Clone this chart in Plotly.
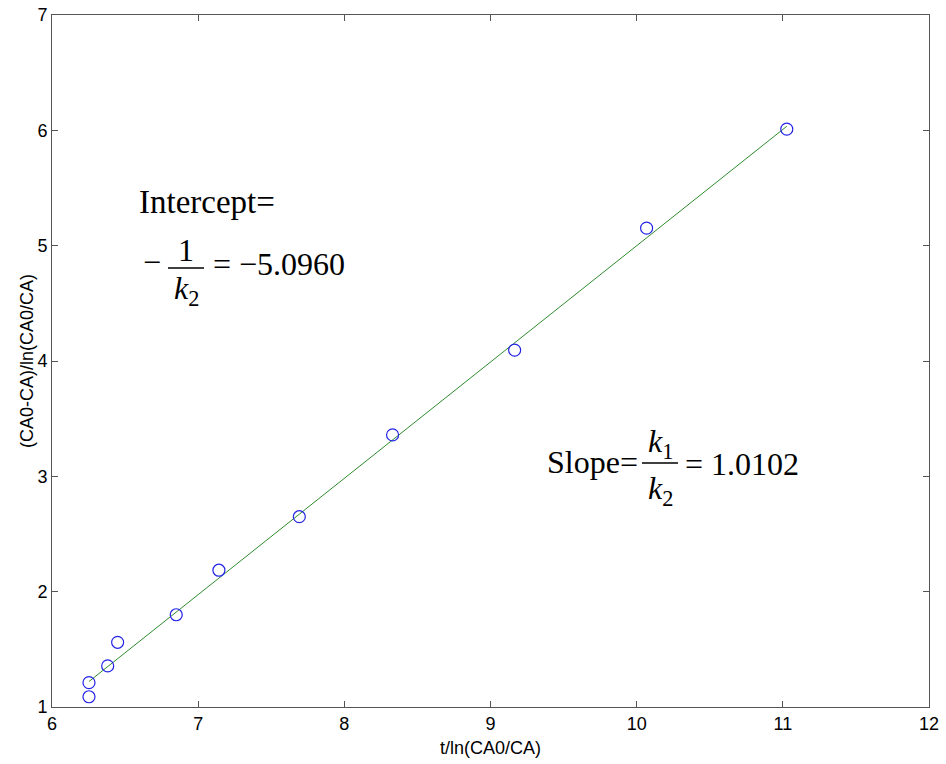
import plotly.graph_objects as go

# data
x_data = [6.253, 6.253, 6.381, 6.449, 6.850, 7.142, 7.692, 8.330, 9.165, 10.068, 11.027]
y_data = [1.089, 1.211, 1.356, 1.561, 1.800, 2.186, 2.650, 3.359, 4.094, 5.152, 6.010]
fit_x = [6.253, 11.027]
fit_y = [1.221, 6.035]
x_ticks = [6, 7, 8, 9, 10, 11, 12]
y_ticks = [1, 2, 3, 4, 5, 6, 7]

W, H = 946, 764
PL, PT, PR, PB = 52, 15, 929, 707          # plot area in page pixels
L, T, R, B = PL, PT, W - PR, H - PB
X0, X1, Y0, Y1 = 6, 12, 1, 7
pw, ph = PR - PL, PB - PT

def dx(px):
    return X0 + (px - PL) / pw * (X1 - X0)

def dy(py):
    return Y0 + (PB - py) / ph * (Y1 - Y0)

fig = go.Figure()
fig.add_trace(go.Scatter(x=fit_x, y=fit_y, mode="lines",
                         line=dict(color="#2e8b2e", width=1), showlegend=False))
fig.add_trace(go.Scatter(x=x_data, y=y_data, mode="markers",
                         marker=dict(symbol="circle-open", size=12, color="#2424e6",
                                     line=dict(width=1.2, color="#2424e6")),
                         showlegend=False))

axis_common = dict(showline=True, linecolor="#555", linewidth=1, mirror="ticks",
                   ticks="inside", ticklen=6, tickcolor="#555", showgrid=False,
                   zeroline=False, tickfont=dict(family="Liberation Sans", size=18, color="black"))
fig.update_xaxes(range=[X0, X1], tickvals=x_ticks, **axis_common)
fig.update_yaxes(range=[Y0, Y1], tickvals=y_ticks, **axis_common)

ann = []
def txt(text, px, py, anchor="left", size=32):
    ann.append(dict(text=text, x=dx(px), y=dy(py), xref="x", yref="y", showarrow=False,
                    xanchor=anchor, yanchor="middle",
                    font=dict(family="Liberation Serif", size=size, color="black")))

# Intercept block
txt("Intercept=", 137, 202, size=33)
txt("\u2212", 141, 262)
txt("1", 186, 250, "center")
txt("<i>k</i><sub>2</sub>", 186, 290, "center")
txt("= \u22125.0960", 211, 264)
# Slope block
txt("Slope=", 640, 462, "right")
txt("<i>k</i><sub>1</sub>", 660, 443, "center")
txt("<i>k</i><sub>2</sub>", 660, 490, "center")
txt("= 1.0102", 683, 464)

shapes = [
    dict(type="line", xref="x", yref="y", x0=dx(168), x1=dx(204), y0=dy(268), y1=dy(268),
         line=dict(color="black", width=1.3)),
    dict(type="line", xref="x", yref="y", x0=dx(642), x1=dx(678), y0=dy(463), y1=dy(463),
         line=dict(color="black", width=1.3)),
]

# axis titles
ann.append(dict(text="t/ln(CA0/CA)", xref="paper", yref="paper", x=0.5,
                y=(PB - 748) / ph, xanchor="center", yanchor="middle", showarrow=False,
                font=dict(family="Liberation Sans", size=18, color="black")))
ann.append(dict(text="(CA0-CA)/ln(CA0/CA)", xref="paper", yref="paper", x=(27 - PL) / pw,
                y=0.5, xanchor="center", yanchor="middle", textangle=-90, showarrow=False,
                font=dict(family="Liberation Sans", size=18, color="black")))

fig.update_layout(width=W, height=H, margin=dict(l=L, r=R, t=T, b=B, autoexpand=False),
                  paper_bgcolor="white", plot_bgcolor="white",
                  annotations=ann, shapes=shapes)
fig.write_html("out.html", config={"displayModeBar": False},
               post_script="document.body.style.margin='0';document.body.style.overflow='hidden';")
